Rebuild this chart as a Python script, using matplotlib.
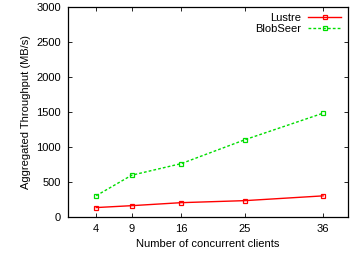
import matplotlib
matplotlib.use("Agg")
import matplotlib.pyplot as plt

# clients vs aggregated throughput
clients = [4, 9, 16, 25, 36]
lustre = [130, 157, 200, 229, 297]
blobseer = [300, 592, 758, 1100, 1478]

plt.rcParams['font.family'] = ['Liberation Sans', 'DejaVu Sans']
plt.rcParams['font.size'] = 8

fig = plt.figure(figsize=(3.5, 2.54), dpi=100)
ax = fig.add_axes([0.194, 0.147, 0.8, 0.827])

ax.plot(clients, lustre, color='#ff0000', lw=1, marker='s', ms=3.5,
        mfc='none', mew=0.9, label='Lustre')
ax.plot(clients, blobseer, color='#00dd00', lw=1, ls=(0, (2, 1.5)), marker='s', ms=3.5,
        mfc='none', mew=0.9, label='BlobSeer')

ax.set_xlim(0, 39.5)
ax.set_ylim(0, 3000)
ax.set_xticks(clients)
ax.set_yticks(range(0, 3001, 500))
ax.tick_params(direction='in', top=True, right=True, length=3, width=0.6, pad=5)
for s in ax.spines.values():
    s.set_linewidth(0.9)

ax.set_xlabel('Number of concurrent clients', labelpad=4)
ax.set_ylabel('Aggregated Throughput (MB/s)', labelpad=4)

leg = ax.legend(loc='upper right', frameon=False, markerfirst=False,
                handlelength=3, borderaxespad=0.2, labelspacing=0.1,
                handletextpad=0.6)
for t in leg.get_texts():
    t.set_ha('right')

fig.savefig('out.png', dpi=100)
